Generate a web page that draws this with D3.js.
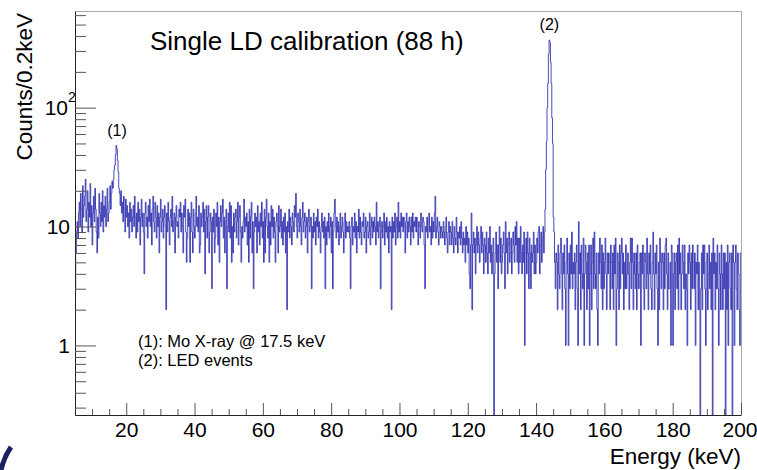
<!DOCTYPE html>
<html>
<head>
<meta charset="utf-8">
<script src="https://cdn.jsdelivr.net/npm/d3@7"></script>
<style>
  body { margin: 0; background: #fff; }
  text { font-family: "Liberation Sans", Arial, Helvetica, sans-serif; fill: #000; }
</style>
</head>
<body>
<svg id="chart" width="757" height="470"></svg>
<script>
// histogram binning
const binStart = 5;
const binWidth = 0.2;

// counts per 0.2 keV bin, one line per 10 keV
const counts = [
  3,6,9,11,8, 13,16,10,19,14, 9,22,12,15,18, 25,11,14,20,9, 16,12,23,10,15, 7,13,18,11,21, 14,9,6,12,8, 19,13,10,16,11, 20,9,15,12,18, 10,14,21,11,13, // 5-15
  16,22,14,19,24, 21,25,30,33,40, 48,45,36,29,21, 19,15,20,13,16, 11,18,14,9,17, 12,15,10,13,8, 16,11,14,9,12, 15,10,18,12,8, 13,9,16,11,14, 7,12,17,10,13, // 15-25
  9,4,13,16,10, 12,8,15,11,17, 10,13,7,14,18, 11,9,16,12,8, 15,10,13,6,12, 17,9,11,14,8, 12,15,10,2,13, 9,16,11,7,12, 14,10,18,9,11, 13,6,12,15,10, // 25-35
  11,8,14,12,16, 9,13,10,6,15, 12,17,9,5,8, 14,10,13,5,12, 16,9,6,14,10, 8,13,18,10,12, 9,15,6,7,13, 10,12,16,9,14, 4,11,15,8,12, 15,6,9,13,11, // 35-45
  3,12,9,14,6, 8,13,10,16,7, 12,5,11,15,10, 13,17,8,12,6, 11,14,3,10,13, 9,16,8,15,5, 10,6,13,9,12, 14,8,11,16,7, 12,15,9,5,10, 8,11,17,9,12, // 45-55
  10,13,7,11,5, 14,8,12,16,6, 11,3,9,13,10, 12,6,15,9,11, 7,13,10,16,8, 11,5,14,6,12, 17,10,8,13,5, 11,7,15,10,14, 8,12,9,5,11, 13,10,6,15,9, // 55-65
  10,14,8,11,7, 12,9,13,6,10, 2,11,9,14,8, 12,10,7,13,11, 9,15,12,19,10, 8,13,11,9,14, 10,7,12,16,9, 11,13,8,10,12, 6,11,14,9,10, 12,3,10,8,13, // 65-75
  9,11,7,12,10, 14,8,11,9,6, 10,13,9,11,8, 12,3,10,7,11, 9,13,8,10,12, 6,11,3,9,13, 17,10,8,12,9, 11,7,10,13,8, 10,12,9,6,11, 13,8,11,9,10, // 75-85
  9,11,8,3,10, 12,7,10,9,13, 8,11,6,10,9, 14,8,12,9,7, 11,10,13,8,9, 12,6,10,11,8, 9,13,7,10,12, 8,11,9,12,10, 7,16,9,11,8, 10,12,3,9,11, // 85-95
  8,10,13,7,11, 9,12,8,10,6, 11,9,10,2,12, 8,11,9,13,7, 10,12,8,16,9, 11,8,13,10,12, 9,12,10,6,11, 13,8,11,9,12, 10,7,12,9,13, 8,11,10,12,9, // 95-105
  12,9,7,11,10, 8,13,10,9,12, 11,7,3,10,9, 12,8,11,13,9, 10,7,12,8,11, 9,13,18,8,10, 12,9,7,11,10, 8,10,9,8,11, 9,7,10,12,8, 6,9,11,7,10, // 105-115
  9,7,11,8,6, 10,8,7,12,9, 6,9,8,10,7, 11,8,6,9,7, 8,5,10,7,9, 6,8,4,3,7, 13,2,7,9,6, 8,4,7,10,6, 9,7,5,8,10, 6,9,7,4,8, // 115-125
  7,5,9,6,4, 8,6,10,5,7, 4,6,8,0,4, 6,9,5,7,3, 7,10,5,8,4, 5,7,9,6,3, 11,6,8,4,7, 9,5,6,8,4, 6,9,7,5,10, 7,11,5,8,4, // 125-135
  8,5,10,6,4, 7,5,9,1,6, 8,4,9,6,3, 8,6,3,7,5, 6,9,4,7,4, 5,8,6,9,10, 4,7,9,5,8, 10,6,9,14,30, 52,100,160,280,370, 350,240,160,82,50, // 135-145
  12,9,5,3,6, 5,2,7,4,3, 6,8,4,2,6, 4,7,3,1,5, 8,4,1,6,3, 7,4,9,3,5, 4,6,2,5,7, 3,1,11,4,6, 2,7,4,3,8, 1,4,7,5,2, // 145-155
  6,3,7,1,4, 7,2,5,8,3, 9,4,3,6,2, 1,6,4,8,5, 3,7,2,6,3, 5,8,4,2,6, 4,6,5,2,7, 5,3,6,2,7, 4,8,1,3,6, 5,2,7,3,6, // 155-165
  8,4,6,2,5, 3,7,3,4,6, 4,2,5,8,3, 8,5,2,6,4, 3,6,2,7,4, 3,5,6,1,6, 4,7,3,2,6, 5,3,8,4,2, 6,4,7,3,2, 5,9,4,2,6, // 165-175
  4,7,3,1,5, 2,8,5,3,6, 5,2,6,3,7, 8,4,2,6,3, 3,5,1,7,6, 1,4,6,2,5, 6,3,7,2,8, 4,6,2,4,7, 5,3,7,2,4, 3,1,6,4,7, // 175-185
  5,2,6,3,7, 5,3,6,1,5, 4,7,2,5,2, 0,3,6,2,7, 4,7,3,1,5, 6,2,4,7,3, 5,2,6,0,8, 4,6,2,5,3, 7,3,1,6,4, 2,7,4,2,6, // 185-195
  3,6,0,5,2, 7,1,5,6,3, 2,6,0,7,5, 1,5,7,3,2, 6,4,2,1,6 // 195-200
];

const xMajorTicks = [20, 40, 60, 80, 100, 120, 140, 160, 180, 200];
const xMinorTicks = d3.range(10, 200, 5).filter(v => v % 20 !== 0);
const yMajorTicks = [1, 10, 100];
const yMinorTicks = [0.3,0.4,0.5,0.6,0.7,0.8,0.9, 2,3,4,5,6,7,8,9, 20,30,40,50,60,70,80,90, 200,300,400,500,600];

const peakLabels = [{e: 17.3, c: 48, text: '(1)'}, {e: 143.9, c: 370, text: '(2)'}];
const notes = ['(1): Mo X-ray @ 17.5 keV', '(2): LED events'];

const frameL = 75, frameR = 741, frameT = 11, frameB = 415;
const yMin = 0.26, yMax = 650;

const svg = d3.select('#chart');

const x = d3.scaleLinear().domain([5, 200]).range([frameL, frameR]);
const y = d3.scaleLog().domain([yMin, yMax]).range([frameB, frameT]);

// frame (top and right sides are light)
svg.append('line').attr('x1', frameL).attr('x2', frameR).attr('y1', frameT + 0.5).attr('y2', frameT + 0.5)
  .attr('stroke', '#aaa');
svg.append('line').attr('x1', frameR + 0.5).attr('x2', frameR + 0.5).attr('y1', frameT).attr('y2', frameB)
  .attr('stroke', '#aaa');

svg.append('clipPath').attr('id', 'plot')
  .append('rect').attr('x', frameL).attr('y', frameT).attr('width', frameR - frameL).attr('height', frameB - frameT);

// histogram as a step line
const pts = counts.map((c, i) => [binStart + i * binWidth, c]);
pts.push([binStart + counts.length * binWidth, counts[counts.length - 1]]);

const line = d3.line()
  .x(d => x(d[0]))
  .y(d => y(Math.max(d[1], yMin)))
  .curve(d3.curveStepAfter);

svg.append('path')
  .datum(pts)
  .attr('clip-path', 'url(#plot)')
  .attr('fill', 'none')
  .attr('stroke', '#2a2aae')
  .attr('stroke-width', 0.85)
  .attr('d', line);

// x axis
const xAxis = svg.append('g').attr('transform', `translate(0,${frameB})`)
  .call(d3.axisBottom(x).tickValues(xMajorTicks).tickSizeInner(-12).tickSizeOuter(0).tickPadding(7)
    .tickFormat(d3.format('d')));
svg.append('g').attr('transform', `translate(0,${frameB})`)
  .call(d3.axisBottom(x).tickValues(xMinorTicks).tickSizeInner(-6).tickSizeOuter(0).tickFormat(''))
  .select('.domain').remove();

// y axis
const yAxis = svg.append('g').attr('transform', `translate(${frameL},0)`)
  .call(d3.axisLeft(y).tickValues(yMajorTicks).tickSizeInner(-21).tickSizeOuter(0).tickPadding(5)
    .tickFormat(d => d === 100 ? '10' : String(d)));
svg.append('g').attr('transform', `translate(${frameL},0)`)
  .call(d3.axisLeft(y).tickValues(yMinorTicks).tickSizeInner(-11).tickSizeOuter(0).tickFormat(''))
  .select('.domain').remove();

svg.selectAll('.tick line').attr('stroke', '#555');
svg.selectAll('.domain').attr('stroke', '#222');
svg.selectAll('.tick text').style('font-size', '21px');

// the last x label sits at the page edge, keep it inside
xAxis.selectAll('.tick').filter(d => d === 200).select('text').attr('text-anchor', 'end').attr('x', 16);

// superscript for 10^2
yAxis.selectAll('.tick').filter(d => d === 100).each(function() {
  const g = d3.select(this);
  g.select('text').attr('x', -7);
  g.append('text').attr('x', -7).attr('y', -6).attr('text-anchor', 'start')
    .style('font-size', '14px').text('2');
});

// axis titles
svg.append('text')
  .attr('x', frameR).attr('y', 464)
  .attr('text-anchor', 'end')
  .style('font-size', '22.5px')
  .text('Energy (keV)');

svg.append('text')
  .attr('transform', 'translate(32,13) rotate(-90)')
  .attr('text-anchor', 'end')
  .style('font-size', '22.5px')
  .text('Counts/0.2keV');

// title
svg.append('text')
  .attr('x', 150).attr('y', 50)
  .style('font-size', '26px')
  .text('Single LD calibration (88 h)');

// peak labels
svg.selectAll('.peak').data(peakLabels).enter()
  .append('text')
  .attr('class', 'peak')
  .attr('x', d => x(d.e))
  .attr('y', d => y(d.c) - 10)
  .attr('text-anchor', 'middle')
  .style('font-size', '16px')
  .text(d => d.text);

svg.selectAll('.note').data(notes).enter()
  .append('text')
  .attr('class', 'note')
  .attr('x', 138)
  .attr('y', (d, i) => 347 + i * 19)
  .style('font-size', '16.5px')
  .text(d => d);

// slide decoration in the lower left corner
svg.append('path')
  .attr('d', 'M11,447 Q4,457 1,470')
  .attr('fill', 'none')
  .attr('stroke', '#1b2160')
  .attr('stroke-width', 5);
</script>
</body>
</html>
